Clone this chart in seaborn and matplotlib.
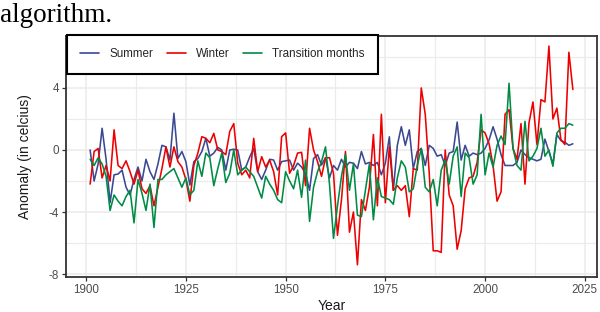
import numpy as np
import pandas as pd
import matplotlib
matplotlib.use("Agg")
import matplotlib.pyplot as plt
import seaborn as sns

years = list(range(1901, 2023))

summer = [
    0.0, -2.0, -0.9, 1.4, -0.6, -3.4, -1.6, -1.55, -1.3, -2.4,
    -2.9, -1.9, -1.1, -2.0, -0.6, -1.4, -1.9, -0.9, 0.3, 0.2,
    -0.65, 2.37, -0.55, -0.1, -0.75, -2.26, -0.75, -0.55, -0.1, 0.75,
    -0.4, -0.2, 0.17, 0.0, -1.3, 0.0, 0.05, 0.0, -1.3, -1.1,
    -0.45, 0.1, -1.4, -1.9, -1.3, -0.6, -0.65, -1.3, -0.75, -0.7,
    -0.65, -1.3, -0.85, -1.1, -1.5, -2.6, -0.55, -0.3, -0.97, -0.5,
    -1.8, -1.0, -1.3, -0.6, -1.1, -0.8, -0.85, -1.2, -0.1, -0.9,
    -0.8, -1.0, -0.8, -1.6, -0.85, 0.85, -2.6, 0.3, 1.5, 0.3,
    1.3, -1.2, -0.1, 0.1, -1.0, 0.3, 0.1, -0.4, -0.3, -1.0,
    -0.2, -0.1, 1.8, -0.65, 0.3, -0.4, -0.2, -0.3, -0.2, 0.1,
    0.65, 1.5, 0.7, -0.3, -1.0, -1.0, -1.0, -0.8, 0.0, -0.3,
    -0.5, -0.6, -0.7, -0.6, 0.7, -0.1, -0.9, 1.0, 0.6, 0.5,
    0.3, 0.4,
]

winter = [
    -2.2, -0.1, 0.1, -1.8, -1.0, -2.0, 1.3, -1.0, -1.2, -0.7,
    -1.4, -2.2, -1.3, -2.5, -2.8, -2.3, -3.6, -2.4, -1.2, 0.2,
    -1.1, 0.2, -0.75, -1.1, -1.9, -3.3, -1.0, -0.2, 0.86, 0.75,
    0.47, 1.07, 0.0, -0.1, -0.3, 1.2, 1.7, -0.86, -1.6, -1.3,
    -1.8, 0.75, -1.4, -0.43, -1.1, -0.65, -1.4, -2.9, 0.86, 1.1,
    -1.5, -1.0, -0.2, -0.15, -2.3, 1.4, 0.0, -0.75, -1.7, -0.5,
    -0.5, -1.5, -5.5, -3.2, -0.1, -5.3, -4.0, -7.4, -3.2, -3.9,
    -2.4, 1.0, -3.6, 2.3, -3.4, 0.2, -2.6, -2.3, -2.6, -2.3,
    -4.3, -1.2, -1.3, 4.0, 2.3, -1.5, -6.5, -6.5, -6.6, 0.0,
    -2.9, -3.6, -6.4, -5.2, -2.5, -1.8, -1.7, -0.8, 1.3, 1.1,
    0.4, -1.0, -3.3, -2.7, 2.3, 2.6, 0.1, -0.6, 1.7, -2.2,
    1.75, 3.1, 0.35, 3.25, 3.1, 6.7, 2.0, 2.7, 0.67, 0.35,
    6.3, 3.9,
]

transition = [
    -0.6, -1.0, -0.5, -0.9, -1.7, -3.9, -2.9, -3.3, -3.6, -3.0,
    -2.6, -4.7, -1.9, -2.8, -3.9, -2.2, -5.0, -1.9, -1.9, -1.6,
    -1.4, -1.2, -1.8, -2.4, -1.8, -2.9, -2.6, -0.7, -1.7, -0.2,
    -0.5, -2.3, -1.2, -0.2, -2.1, -1.5, 0.0, -1.6, -1.3, -1.1,
    -1.4, -1.7, -2.4, -3.1, -1.7, -2.2, -2.6, -3.2, -3.4, -1.4,
    -2.0, -2.5, -1.3, -3.05, -0.65, -4.6, -2.4, -1.4, -0.75, 0.2,
    -2.2, -5.7, -3.6, -1.7, -0.3, -2.6, -0.9, -4.2, -4.3, -2.6,
    -0.9, -4.5, -1.8, -3.0, -3.1, -3.2, -3.5, -1.8, -0.7, -1.1,
    -2.7, -2.5, -1.0, 0.1, -2.4, -2.7, -1.9, -3.6, -1.3, -0.65,
    -2.2, -0.4, 0.2, -3.0, -0.2, -0.5, -2.2, -1.6, 2.3, -1.6,
    -0.2, -1.1, 0.3, 0.9, 0.35, 4.3, 0.1, -1.0, -1.3, 1.85,
    -0.7, -0.4, 0.1, 1.4, -0.4, 0.0, -1.05, 1.1, 1.4, 1.4,
    1.7, 1.6,
]

series_names = ["Summer", "Winter", "Transition months"]
colors = ["#3B4992", "#EE0000", "#008B45"]
x_ticks = [1900, 1925, 1950, 1975, 2000, 2025]
y_ticks = [-8, -4, 0, 4]

df = pd.concat([
    pd.DataFrame({"Year": years, "Anomaly": summer, "Season": series_names[0]}),
    pd.DataFrame({"Year": years, "Anomaly": winter, "Season": series_names[1]}),
    pd.DataFrame({"Year": years, "Anomaly": transition, "Season": series_names[2]}),
])

sns.set_theme(style="whitegrid")
plt.rcParams["font.family"] = ["Liberation Sans", "DejaVu Sans"]
plt.rcParams["axes.unicode_minus"] = False

fig = plt.figure(figsize=(6.0, 3.12), dpi=100)
ax = fig.add_axes([66 / 600, 1 - 277 / 312, (597 - 66) / 600, (277 - 36) / 312])

sns.lineplot(data=df, x="Year", y="Anomaly", hue="Season", hue_order=series_names,
             palette=colors, linewidth=1.15, ax=ax, legend=True)

ax.set_xlim(1894.95, 2028.05)
ax.set_ylim(-8.19, 7.35)
ax.set_xticks(x_ticks)
ax.set_yticks(y_ticks)
ax.set_xticks([1912.5, 1937.5, 1962.5, 1987.5, 2012.5], minor=True)
ax.set_yticks([-6, -2, 2, 6], minor=True)
ax.grid(True, which="major", color="#EBEBEB", linewidth=1.1)
ax.grid(True, which="minor", color="#EBEBEB", linewidth=0.8)
ax.set_axisbelow(True)
ax.set_facecolor("white")

for sp in ax.spines.values():
    sp.set_color("#333333")
    sp.set_linewidth(1.3)

ax.tick_params(axis="both", which="major", length=3, width=0.9, color="#333333",
               labelsize=8.4, labelcolor="#4D4D4D", pad=2, left=True, bottom=True)
ax.tick_params(axis="both", which="minor", length=0)
ax.set_xlabel("Year", fontsize=10, color="#1A1A1A", labelpad=2)
ax.set_ylabel("Anomaly (in celcius)", fontsize=10, color="#1A1A1A", labelpad=12)

handles, labels = ax.get_legend_handles_labels()
leg = ax.legend(handles, labels, ncol=3, loc="upper left", bbox_to_anchor=(0.002, 1.004),
                borderaxespad=0, frameon=True, fancybox=False, fontsize=8.4,
                handlelength=1.6, handletextpad=0.9, columnspacing=1.15, borderpad=1.15)
frame = leg.get_frame()
frame.set_edgecolor("black")
frame.set_linewidth(1.5)
frame.set_alpha(1)
for line in leg.get_lines():
    line.set_linewidth(1.2)

fig.text(0.0, 1 - 22 / 312, "algorithm.", fontsize=19.5, family=["Liberation Serif", "DejaVu Serif"],
         ha="left", va="baseline", color="black")

fig.savefig("out.png", dpi=100, facecolor="white")
